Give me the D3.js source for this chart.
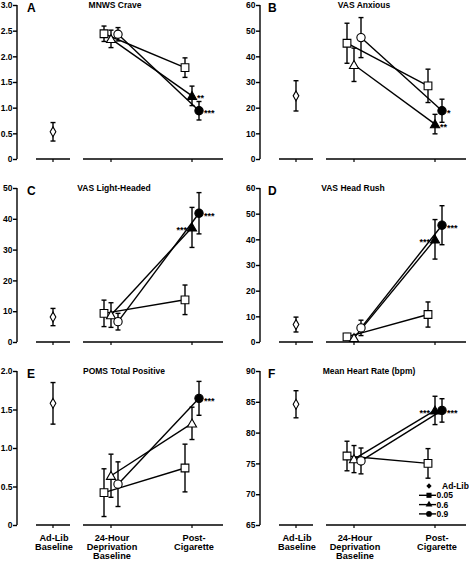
<!DOCTYPE html>
<html><head><meta charset="utf-8">
<script src="https://cdn.jsdelivr.net/npm/d3@7"></script>
<style>
body{margin:0;background:#fff;}
text{font-family:Arial,"Liberation Sans",Helvetica,sans-serif;font-weight:bold;fill:#000;}
</style></head>
<body>
<script>
// ---------- data ----------
const categories = ["Ad-Lib Baseline", "24-Hour Deprivation Baseline", "Post-Cigarette"];
const categoryLines = [["Ad-Lib","Baseline"],["24-Hour","Deprivation","Baseline"],["Post-","Cigarette"]];
const doses = ["0.05", "0.6", "0.9"];
const panelLetters = ["A", "B", "C", "D", "E", "F"];
const panelTitles = ["MNWS Crave", "VAS Anxious", "VAS Light-Headed", "VAS Head Rush", "POMS Total Positive", "Mean Heart Rate (bpm)"];
const yDomains = [[0, 3], [0, 60], [0, 50], [0, 60], [0, 2], [65, 90]];
const yTicks = [[0, 0.5, 1, 1.5, 2, 2.5, 3], [0, 10, 20, 30, 40, 50, 60], [0, 10, 20, 30, 40, 50],
                [0, 10, 20, 30, 40, 50, 60], [0, 0.5, 1, 1.5, 2], [65, 70, 75, 80, 85, 90]];
const yTickLabels = [["0","0.5","1.0","1.5","2.0","2.5","3.0"], ["0","10","20","30","40","50","60"],
                     ["0","10","20","30","40","50"], ["0","10","20","30","40","50","60"],
                     ["0","0.5","1.0","1.5","2.0"], ["65","70","75","80","85","90"]];
const adLibMean = [0.53, 24.6, 8.1, 6.8, 1.58, 84.6];
const adLibErr  = [0.18, 5.9, 2.8, 2.9, 0.27, 2.2];
// per panel: [0.05, 0.6, 0.9]
const deprMean = [[2.44, 2.34, 2.43], [45.1, 36.7, 47.3], [9.3, 8.75, 6.6], [2.0, 1.6, 5.5], [0.42, 0.64, 0.53], [76.2, 75.7, 75.4]];
const deprErr  = [[0.15, 0.17, 0.13], [7.8, 6.5, 7.8], [4.3, 4.0, 2.7], [1.3, 1.0, 3.0], [0.31, 0.28, 0.29], [2.4, 2.2, 2.1]];
const postMean = [[1.78, 1.23, 0.94], [28.5, 13.6, 18.8], [13.7, 37.2, 41.8], [10.7, 40.0, 45.5], [0.74, 1.32, 1.645], [75.0, 83.6, 83.6]];
const postErr  = [[0.19, 0.19, 0.18], [6.5, 3.8, 4.5], [4.8, 6.5, 6.7], [4.9, 7.7, 7.6], [0.31, 0.21, 0.22], [2.4, 2.3, 1.9]];
const postSig  = [["", "**", "***"], ["", "**", "*"], ["", "***", "***"], ["", "***", "***"], ["", "", "***"], ["", "***", "***"]];

// ---------- layout ----------
const W = 469, H = 561;
const colX = [17, 260];
const rowTop = [5, 188, 371];
const plotH = 154;
const catPos = [36, 94, 175];
const axisSegs = [[19, 53], [66, 206]];
const doseDx = [-7, 0, 7];
const titleCx = [98, 104, 97, 93, 107, 109];
const sigSide = [["", "r", "r"], ["", "r", "r"], ["", "l", "r"], ["", "l", "r"], ["", "r", "r"], ["", "l", "r"]];
const symTypes = [d3.symbolSquare, d3.symbolTriangle, d3.symbolCircle];
const symSizes = [60, 36, 54];

const svg = d3.select("body").append("svg").attr("width", W).attr("height", H);

panelLetters.forEach((letter, i) => {
  const col = i % 2, row = Math.floor(i / 2);
  const g = svg.append("g").attr("transform", `translate(${colX[col]},${rowTop[row]})`);
  const y = d3.scaleLinear().domain(yDomains[i]).range([plotH, 0]);
  const x = d3.scaleOrdinal().domain(categories).range(catPos);

  // y axis
  const ax = g.append("g").call(d3.axisLeft(y).tickValues(yTicks[i]).tickSize(4).tickPadding(0.5)
      .tickFormat((d, k) => yTickLabels[i][k]));
  ax.select(".domain").attr("stroke", "#000").attr("stroke-width", 1.4).attr("d", `M0,0V${plotH}`);
  ax.selectAll(".tick line").attr("stroke", "#000").attr("stroke-width", 1.4);
  ax.selectAll(".tick text").style("font-size", "8.5px").style("font-weight", "bold")
      .style("font-family", "Arial, 'Liberation Sans', sans-serif");

  // broken x axis
  axisSegs.forEach(s => g.append("line").attr("x1", s[0]).attr("x2", s[1]).attr("y1", plotH).attr("y2", plotH)
      .attr("stroke", "#000").attr("stroke-width", 1.4));
  categories.forEach(c => g.append("line").attr("x1", x(c)).attr("x2", x(c)).attr("y1", plotH).attr("y2", plotH + 3)
      .attr("stroke", "#000").attr("stroke-width", 1.2));

  // letter and title
  g.append("text").attr("x", col === 0 ? 10 : 8).attr("y", 7).style("font-size", "12px").text(letter);
  g.append("text").attr("x", titleCx[i]).attr("y", 3).attr("text-anchor", "middle").style("font-size", "8.5px").text(panelTitles[i]);

  // connecting lines
  doses.forEach((d, k) => {
    g.append("line")
      .attr("x1", x(categories[1]) + doseDx[k]).attr("y1", y(deprMean[i][k]))
      .attr("x2", x(categories[2]) + doseDx[k]).attr("y2", y(postMean[i][k]))
      .attr("stroke", "#000").attr("stroke-width", 1.4);
  });

  function errBar(cx, m, e) {
    g.append("line").attr("x1", cx).attr("x2", cx).attr("y1", y(m - e)).attr("y2", y(m + e)).attr("stroke", "#000").attr("stroke-width", 1.4);
    [m - e, m + e].forEach(v => g.append("line").attr("x1", cx - 2.5).attr("x2", cx + 2.5).attr("y1", y(v)).attr("y2", y(v))
        .attr("stroke", "#000").attr("stroke-width", 1.4));
  }
  // error bars
  errBar(x(categories[0]), adLibMean[i], adLibErr[i]);
  doses.forEach((d, k) => {
    errBar(x(categories[1]) + doseDx[k], deprMean[i][k], deprErr[i][k]);
    errBar(x(categories[2]) + doseDx[k], postMean[i][k], postErr[i][k]);
  });

  // markers
  g.append("path").attr("d", d3.symbol().type(d3.symbolDiamond).size(28)())
    .attr("transform", `translate(${x(categories[0])},${y(adLibMean[i])})`)
    .attr("fill", "#fff").attr("stroke", "#000").attr("stroke-width", 1.1);
  doses.forEach((d, k) => {
    g.append("path").attr("d", d3.symbol().type(symTypes[k]).size(symSizes[k])())
      .attr("transform", `translate(${x(categories[1]) + doseDx[k]},${y(deprMean[i][k]) + (k === 1 ? 1 : 0)})`)
      .attr("fill", "#fff").attr("stroke", "#000").attr("stroke-width", 1.1);
    const filled = postSig[i][k] !== "";
    const px = x(categories[2]) + doseDx[k], py = y(postMean[i][k]);
    g.append("path").attr("d", d3.symbol().type(symTypes[k]).size(symSizes[k])())
      .attr("transform", `translate(${px},${py + (k === 1 ? 1 : 0)})`)
      .attr("fill", filled ? "#000" : "#fff").attr("stroke", "#000").attr("stroke-width", 1.1);
    if (filled) {
      const left = sigSide[i][k] === "l";
      g.append("text").attr("x", left ? px - 5 : px + 5).attr("y", py + 5.5)
        .attr("text-anchor", left ? "end" : "start").style("font-size", "9px").text(postSig[i][k]);
    }
  });

  // category labels on bottom row
  if (row === 2) {
    categories.forEach((c, ci) => {
      categoryLines[ci].forEach((ln, li) => {
        g.append("text").attr("x", x(c) + (ci === 2 ? 2 : 1)).attr("y", plotH + 15.5 + li * 9.4)
          .attr("text-anchor", "middle").style("font-size", "9.2px").text(ln);
      });
    });
  }

  // legend in panel F
  if (i === 5) {
    const lx = 169, ly0 = 115, step = 9.3;
    g.append("path").attr("d", d3.symbol().type(d3.symbolSquare).size(14)())
      .attr("transform", `translate(${lx},${ly0}) rotate(45)`).attr("fill", "#000");
    g.append("text").attr("x", lx + 13).attr("y", ly0 + 3).style("font-size", "8.5px").text("Ad-Lib");
    doses.forEach((d, k) => {
      const ly = ly0 + step * (k + 1);
      g.append("line").attr("x1", lx - 10).attr("x2", lx + 7).attr("y1", ly).attr("y2", ly).attr("stroke", "#000").attr("stroke-width", 1.4);
      g.append("path").attr("d", d3.symbol().type(symTypes[k]).size(k === 1 ? 20 : 26)())
        .attr("transform", `translate(${lx},${ly})`).attr("fill", "#000");
      g.append("text").attr("x", lx + 7.5).attr("y", ly + 3).style("font-size", "8.5px").text(d);
    });
  }
});
</script>
</body></html>
